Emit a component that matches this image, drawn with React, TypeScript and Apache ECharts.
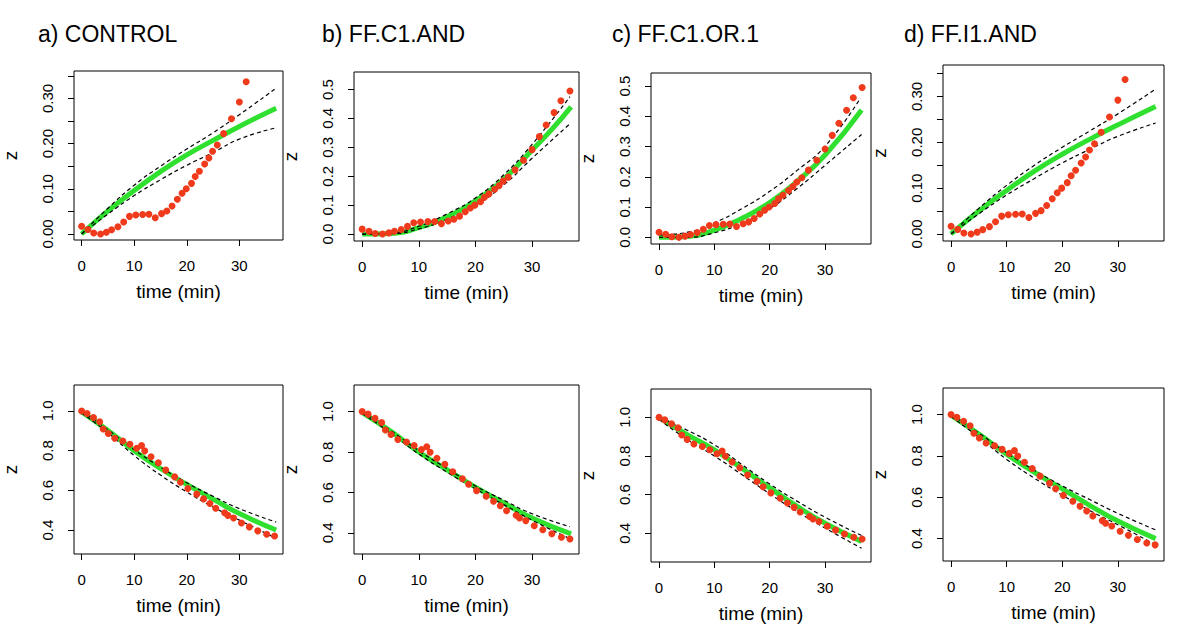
import React, { useEffect, useRef } from 'react';
import * as echarts from 'echarts';

// ---- texts ----
const panelTitles = ['a) CONTROL', 'b) FF.C1.AND', 'c) FF.C1.OR.1', 'd) FF.I1.AND'];
const titleLeft = [38, 322, 612, 904];
const xAxisName = 'time (min)';
const yAxisName = 'z';

// ---- ticks ----
const xTicks = [0, 10, 20, 30];
const yTicksTopAD = [0, 0.05, 0.1, 0.15, 0.2, 0.25, 0.3, 0.35];
const yLabelsTopAD = [0, 0.1, 0.2, 0.3];
const yTicksTopBC = [0, 0.1, 0.2, 0.3, 0.4, 0.5];
const yTicksBottom = [0.4, 0.6, 0.8, 1.0];

// ---- observed data (red points) ----
const obsTopTime = [0, 1.2, 2.3, 3.6, 4.7, 5.7, 6.9, 8.0, 9.1, 10.3, 11.6, 12.8, 14.0, 15.2, 16.2, 17.2, 18.2, 19.1, 19.9, 20.9, 21.6, 22.4, 23.4, 24.2, 24.9, 25.8, 27.0, 28.5, 30.0, 31.3, 32.5, 33.9, 35.1, 36.7];
const obsTopZ = [0.017, 0.010, 0.002, 0.0, 0.004, 0.0095, 0.016, 0.0265, 0.039, 0.042, 0.043, 0.0437, 0.036, 0.045, 0.051, 0.062, 0.077, 0.090, 0.100, 0.112, 0.127, 0.139, 0.155, 0.168, 0.183, 0.197, 0.222, 0.255, 0.292, 0.337, 0.377, 0.420, 0.461, 0.495];
const obsBottomTime = [0, 1.04, 2.26, 3.43, 4.1, 5.08, 6.3, 7.83, 9.18, 10.47, 11.4, 12.0, 13.2, 14.6, 16.0, 17.7, 18.8, 20.2, 21.9, 23.2, 24.4, 25.5, 27.2, 27.8, 28.9, 30.4, 31.9, 33.5, 35.2, 36.7];
const obsBottomZ = [1.0, 0.987, 0.967, 0.946, 0.909, 0.886, 0.862, 0.849, 0.832, 0.812, 0.826, 0.799, 0.769, 0.739, 0.702, 0.668, 0.641, 0.609, 0.581, 0.557, 0.534, 0.510, 0.487, 0.474, 0.461, 0.436, 0.416, 0.396, 0.379, 0.370];

// ---- fitted curves (green) and bands (dashed), [time, z] ----
const fitTopA = [[0, 0], [5, 0.051], [10, 0.096], [15, 0.138], [20, 0.175], [25, 0.207], [30, 0.238], [37, 0.278]];
const upTopA = [[0, 0], [5, 0.057], [10, 0.108], [15, 0.15], [20, 0.188], [25, 0.224], [30, 0.264], [36.7, 0.32]];
const loTopA = [[0, 0], [5, 0.044], [10, 0.085], [15, 0.12], [20, 0.152], [25, 0.18], [30, 0.21], [37, 0.235]];

const fitTopB = [[0, 0], [5, 0.002], [10, 0.022], [15, 0.06], [20, 0.115], [25, 0.19], [30, 0.29], [33.5, 0.362], [36.9, 0.44]];
const upTopB = [[0, 0], [5, 0.003], [10, 0.027], [15, 0.07], [20, 0.125], [25, 0.205], [30, 0.31], [36.7, 0.475]];
const loTopB = [[0, 0], [5, 0.001], [10, 0.018], [15, 0.052], [20, 0.1], [25, 0.17], [30, 0.262], [36.9, 0.385]];

const fitTopC = [[0, 0], [5, 0.003], [10, 0.024], [15, 0.063], [20, 0.115], [25, 0.186], [30, 0.272], [36.6, 0.421]];
const upTopC = [[0, 0.008], [5, 0.016], [10, 0.048], [15, 0.095], [20, 0.152], [25, 0.222], [30, 0.301], [36.4, 0.46]];
const loTopC = [[0, 0], [5, 0.0], [10, 0.015], [15, 0.047], [20, 0.095], [25, 0.162], [30, 0.238], [36.6, 0.34]];

const fitTopD = [[0, 0], [5, 0.05], [10, 0.095], [15, 0.137], [20, 0.174], [25, 0.207], [30, 0.238], [36.8, 0.278]];
const upTopD = [[0, 0], [5, 0.056], [10, 0.106], [15, 0.15], [20, 0.189], [25, 0.225], [30, 0.262], [36.8, 0.316]];
const loTopD = [[0, 0], [5, 0.044], [10, 0.085], [15, 0.121], [20, 0.155], [25, 0.185], [30, 0.213], [36.8, 0.242]];

const fitBotA = [[0, 0.995], [5, 0.902], [10, 0.8], [15, 0.71], [20, 0.63], [25, 0.556], [30, 0.483], [37, 0.4]];
const upBotA = [[0, 1.0], [5, 0.905], [10, 0.805], [15, 0.717], [20, 0.638], [25, 0.57], [30, 0.508], [37, 0.44]];
const loBotA = [[0, 0.99], [5, 0.89], [10, 0.775], [15, 0.677], [20, 0.592], [25, 0.516], [30, 0.45], [37, 0.358]];

const fitBotB = [[0, 0.995], [5, 0.903], [10, 0.8], [15, 0.712], [20, 0.626], [25, 0.548], [30, 0.474], [36.9, 0.395]];
const upBotB = [[0, 1.0], [5, 0.907], [10, 0.806], [15, 0.718], [20, 0.632], [25, 0.562], [30, 0.495], [36.7, 0.431]];
const loBotB = [[0, 0.99], [5, 0.895], [10, 0.79], [15, 0.7], [20, 0.618], [25, 0.54], [30, 0.463], [36.9, 0.369]];

const fitBotC = [[0, 1.0], [5, 0.912], [10, 0.832], [15, 0.735], [20, 0.635], [25, 0.538], [30, 0.452], [36.6, 0.357]];
const upBotC = [[0, 1.0], [5, 0.935], [10, 0.858], [15, 0.755], [20, 0.655], [25, 0.565], [30, 0.483], [36.6, 0.388]];
const loBotC = [[0, 0.99], [5, 0.887], [10, 0.8], [15, 0.703], [20, 0.604], [25, 0.512], [30, 0.427], [36.6, 0.322]];

const fitBotD = [[0, 0.995], [5, 0.905], [10, 0.808], [15, 0.72], [20, 0.641], [25, 0.56], [30, 0.485], [36.8, 0.4]];
const upBotD = [[0, 1.0], [5, 0.91], [10, 0.815], [15, 0.73], [20, 0.655], [25, 0.588], [30, 0.522], [36.8, 0.442]];
const loBotD = [[0, 0.99], [5, 0.89], [10, 0.783], [15, 0.692], [20, 0.61], [25, 0.535], [30, 0.467], [36.8, 0.37]];

const FONT = '"Liberation Sans", Arial, Helvetica, sans-serif';
const RED = '#f03a1c';
const GREEN = '#2fe02f';

type Panel = {
  box: [number, number, number, number];
  yMin: number; yMax: number;
  yTicks: number[]; yLabels: number[]; dec: number;
  top: boolean;
  fit: number[][]; up: number[][]; lo: number[][];
};

const panels: Panel[] = [
  { box: [66, 71, 217, 169], yMin: -0.0133, yMax: 0.3606, yTicks: yTicksTopAD, yLabels: yLabelsTopAD, dec: 2, top: true, fit: fitTopA, up: upTopA, lo: loTopA },
  { box: [354, 72, 225, 169], yMin: -0.024, yMax: 0.5605, yTicks: yTicksTopBC, yLabels: yTicksTopBC, dec: 1, top: true, fit: fitTopB, up: upTopB, lo: loTopB },
  { box: [651, 73, 220, 171], yMin: -0.022, yMax: 0.543, yTicks: yTicksTopBC, yLabels: yTicksTopBC, dec: 1, top: true, fit: fitTopC, up: upTopC, lo: loTopC },
  { box: [943, 65, 221, 176], yMin: -0.0153, yMax: 0.3686, yTicks: yTicksTopAD, yLabels: yLabelsTopAD, dec: 2, top: true, fit: fitTopD, up: upTopD, lo: loTopD },
  { box: [66, 385, 217, 169], yMin: 0.2794, yMax: 1.1307, yTicks: yTicksBottom, yLabels: yTicksBottom, dec: 1, top: false, fit: fitBotA, up: upBotA, lo: loBotA },
  { box: [354, 385, 225, 169], yMin: 0.296, yMax: 1.131, yTicks: yTicksBottom, yLabels: yTicksBottom, dec: 1, top: false, fit: fitBotB, up: upBotB, lo: loBotB },
  { box: [651, 389, 220, 173], yMin: 0.251, yMax: 1.147, yTicks: yTicksBottom, yLabels: yTicksBottom, dec: 1, top: false, fit: fitBotC, up: upBotC, lo: loBotC },
  { box: [943, 388, 221, 173], yMin: 0.292, yMax: 1.128, yTicks: yTicksBottom, yLabels: yTicksBottom, dec: 1, top: false, fit: fitBotD, up: upBotD, lo: loBotD },
];

function buildOption() {
  const grid: any[] = [];
  const xAxis: any[] = [];
  const yAxis: any[] = [];
  const series: any[] = [];
  const topObs = obsTopTime.map((t, i) => [t, obsTopZ[i]]);
  const botObs = obsBottomTime.map((t, i) => [t, obsBottomZ[i]]);

  panels.forEach((p, i) => {
    const [left, top, width, height] = p.box;
    grid.push({ left, top, width, height, show: true, borderColor: '#000', borderWidth: 1, backgroundColor: 'transparent' });
    xAxis.push({
      type: 'value', gridIndex: i, min: -1.45, max: 38.3, position: 'bottom',
      axisLine: { show: false, onZero: false },
      axisTick: { show: true, length: 6, customValues: xTicks, lineStyle: { color: '#000', width: 1 } },
      axisLabel: { customValues: xTicks, margin: 18, fontSize: 15, color: '#000', fontFamily: FONT },
      splitLine: { show: false },
      name: xAxisName, nameLocation: 'middle', nameGap: 42,
      nameTextStyle: { fontSize: 19, color: '#000', fontFamily: FONT },
    });
    yAxis.push({
      type: 'value', gridIndex: i, min: p.yMin, max: p.yMax, position: 'left',
      axisLine: { show: false, onZero: false },
      axisTick: { show: true, length: 6, customValues: p.yTicks, lineStyle: { color: '#000', width: 1 } },
      axisLabel: {
        customValues: p.yLabels, margin: 19, rotate: 90, fontSize: 15, color: '#000', fontFamily: FONT,
        formatter: (v: number) => v.toFixed(p.dec),
      },
      splitLine: { show: false },
      name: yAxisName, nameLocation: 'middle', nameGap: 54, nameRotate: 90,
      nameTextStyle: { fontSize: 19, color: '#000', fontFamily: FONT },
    });
    series.push({
      type: 'line', xAxisIndex: i, yAxisIndex: i, data: p.fit, smooth: true, symbol: 'none',
      lineStyle: { color: GREEN, width: 5 }, z: 2, clip: true,
    });
    series.push({
      type: 'line', xAxisIndex: i, yAxisIndex: i, data: p.up, smooth: true, symbol: 'none',
      lineStyle: { color: '#000', width: 1.2, type: [4, 3] }, z: 3, clip: true,
    });
    series.push({
      type: 'line', xAxisIndex: i, yAxisIndex: i, data: p.lo, smooth: true, symbol: 'none',
      lineStyle: { color: '#000', width: 1.2, type: [4, 3] }, z: 3, clip: true,
    });
    series.push({
      type: 'scatter', xAxisIndex: i, yAxisIndex: i, data: p.top ? topObs : botObs,
      symbol: 'circle', symbolSize: 7, itemStyle: { color: RED, opacity: 1 }, z: 4, clip: true,
    });
  });

  const title = panelTitles.map((t, i) => ({
    text: t, left: titleLeft[i], top: 22, padding: 0,
    textStyle: { fontSize: 23, fontWeight: 'normal', color: '#000', fontFamily: FONT },
  }));

  return {
    animation: false,
    backgroundColor: '#fff',
    title, grid, xAxis, yAxis, series,
  };
}

export default function App() {
  const ref = useRef<HTMLDivElement>(null);
  useEffect(() => {
    if (!ref.current) return;
    const chart = echarts.init(ref.current, undefined, { renderer: 'svg' });
    chart.setOption(buildOption() as any);
    return () => chart.dispose();
  }, []);
  return <div ref={ref} style={{ position: 'absolute', left: 0, top: 0, width: 1200, height: 644, background: '#fff' }} />;
}
